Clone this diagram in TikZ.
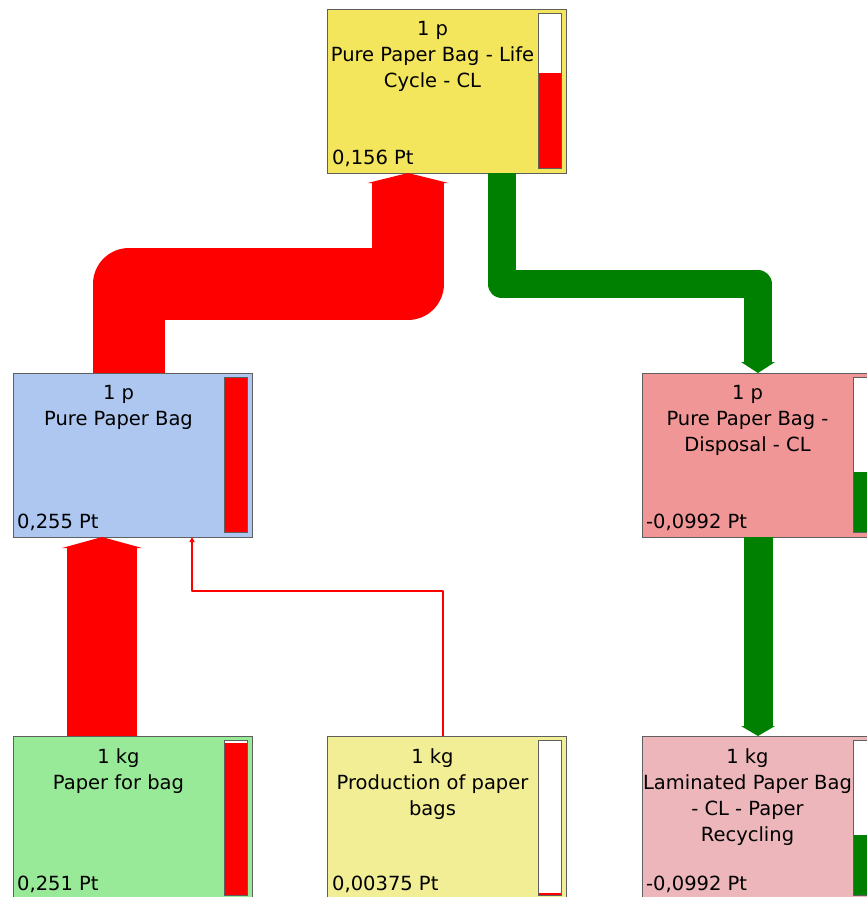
\documentclass[tikz,border=0pt]{standalone}
\usepackage{fontspec}
\setmainfont{DejaVu Sans}
\usepackage{xcolor}
\usetikzlibrary{arrows.meta}

\definecolor{cycleyellow}{RGB}{243,229,92}
\definecolor{bagblue}{RGB}{173,199,240}
\definecolor{disppink}{RGB}{241,150,150}
\definecolor{papergreen}{RGB}{152,234,152}
\definecolor{prodyellow}{RGB}{241,238,150}
\definecolor{recycpink}{RGB}{236,182,187}
\definecolor{flowred}{RGB}{255,0,0}
\definecolor{flowgreen}{RGB}{0,128,0}
\definecolor{rimgray}{RGB}{95,95,95}

\begin{document}
\begin{tikzpicture}[x=1pt,y=-1pt,
  procbox/.style={draw=rimgray, line width=0.8pt, minimum width=239pt,
    minimum height=164pt, inner sep=0pt, outer sep=0pt, anchor=north west},
  boxtitle/.style={anchor=north, align=center, inner sep=0pt,
    font=\fontsize{19.5}{26}\selectfont},
  boxvalue/.style={anchor=base west, inner sep=0pt,
    font=\fontsize{19.5}{26}\selectfont},
  meter/.style={draw=rimgray, line width=0.8pt},
  redflow/.style={draw=flowred, line join=round},
  greenflow/.style={draw=flowgreen, line join=round}]

\useasboundingbox (0,0) rectangle (867,897);
\clip (0,0) rectangle (867,897);

% Process boxes
\node[procbox, fill=cycleyellow] (top) at (327,9) {};
\node[procbox, fill=bagblue] (bag) at (13,373) {};
\node[procbox, fill=disppink] (disp) at (642,373) {};
\node[procbox, fill=papergreen] (paper) at (13,736) {};
\node[procbox, fill=prodyellow] (prod) at (327,736) {};
\node[procbox, fill=recycpink] (recyc) at (642,736) {};

% Score meters (white, then filled part from below)
\foreach \b/\h/\c in {top/95/flowred, bag/155/flowred, disp/60/flowgreen,
    paper/152/flowred, prod/2.5/flowred, recyc/60/flowgreen} {
  \fill[white] ([xshift=211pt,yshift=5pt]\b.south west) rectangle ([xshift=-5pt,yshift=-4pt]\b.north east);
  \fill[\c] ([xshift=211pt,yshift=5pt]\b.south west) rectangle ([xshift=-5pt,yshift=5pt+\h pt]\b.south east);
  \draw[meter] ([xshift=211pt,yshift=5pt]\b.south west) rectangle ([xshift=-5pt,yshift=-4pt]\b.north east);
}

% Labels
\node[boxtitle] (toptitle) at ([xshift=105.5pt,yshift=-12pt]top.north west) {1 p\\Pure Paper Bag - Life\\Cycle - CL};
\node[boxvalue] (topvalue) at ([xshift=5pt,yshift=9pt]top.south west) {0,156 Pt};

\node[boxtitle] (bagtitle) at ([xshift=105.5pt,yshift=-12pt]bag.north west) {1 p\\Pure Paper Bag};
\node[boxvalue] (bagvalue) at ([xshift=4pt,yshift=9pt]bag.south west) {0,255 Pt};

\node[boxtitle] (disptitle) at ([xshift=105.5pt,yshift=-12pt]disp.north west) {1 p\\Pure Paper Bag -\\Disposal - CL};
\node[boxvalue] (dispvalue) at ([xshift=4pt,yshift=9pt]disp.south west) {-0,0992 Pt};

\node[boxtitle] (papertitle) at ([xshift=105.5pt,yshift=-12pt]paper.north west) {1 kg\\Paper for bag};
\node[boxvalue] (papervalue) at ([xshift=4pt,yshift=10pt]paper.south west) {0,251 Pt};

\node[boxtitle] (prodtitle) at ([xshift=105.5pt,yshift=-12pt]prod.north west) {1 kg\\Production of paper\\bags};
\node[boxvalue] (prodvalue) at ([xshift=5pt,yshift=10pt]prod.south west) {0,00375 Pt};

\node[boxtitle] (recyctitle) at ([xshift=105.5pt,yshift=-12pt]recyc.north west) {1 kg\\Laminated Paper Bag\\- CL - Paper\\Recycling};
\node[boxvalue] (recycvalue) at ([xshift=4pt,yshift=10pt]recyc.south west) {-0,0992 Pt};

% Flows
\draw[redflow, line width=72pt, -{Triangle[width=81pt,length=10pt,line width=0pt]}]
  ([xshift=116pt]bag.north west) -- ++(0,-89) -| ([xshift=81pt]top.south west);
\draw[greenflow, line width=28pt, -{Triangle[width=34pt,length=11pt,line width=0pt]}]
  ([xshift=174.5pt]top.south west) -- ++(0,111) -| ([xshift=116pt]disp.north west);
\draw[greenflow, line width=29pt, -{Triangle[width=34pt,length=10pt,line width=0pt]}]
  ([xshift=116pt]disp.south west) -- ([xshift=116pt]recyc.north west);
\draw[redflow, line width=70pt, -{Triangle[width=80pt,length=11pt,line width=0pt]}]
  ([xshift=89pt]paper.north west) -- ([xshift=89pt]bag.south west);
\draw[redflow, line width=1.2pt, -{Triangle[width=5pt,length=5pt]}]
  ([xshift=116pt]prod.north west) -- ++(0,-145) -| ([xshift=179pt]bag.south west);

\end{tikzpicture}
\end{document}
